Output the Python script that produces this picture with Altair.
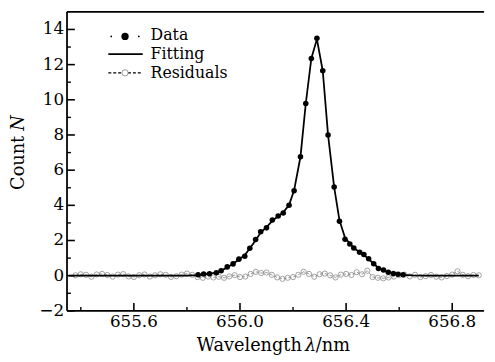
import altair as alt
import pandas as pd

# ---- data ----
data_wl = [655.842, 655.863, 655.885, 655.911, 655.929, 655.952, 655.974, 655.996, 656.018,
           656.037, 656.059, 656.078, 656.100, 656.122, 656.144, 656.163, 656.185, 656.204,
           656.228, 656.248, 656.269, 656.290, 656.312, 656.332, 656.355, 656.375, 656.396,
           656.414, 656.429, 656.451, 656.467, 656.485, 656.504, 656.522, 656.541, 656.559,
           656.578, 656.596, 656.615]
data_count = [0.05, 0.10, 0.11, 0.17, 0.28, 0.50, 0.67, 0.94, 1.11,
              1.56, 2.06, 2.50, 2.72, 3.17, 3.39, 3.56, 4.00, 4.83,
              6.76, 9.79, 12.35, 13.50, 11.65, 8.00, 5.04, 3.09, 2.07,
              1.80, 1.57, 1.33, 1.20, 0.96, 0.68, 0.41, 0.32, 0.20,
              0.12, 0.08, 0.05]

fit_wl = [655.355, 655.80, 655.842, 655.863, 655.885, 655.911, 655.929, 655.952, 655.974,
          655.996, 656.018, 656.037, 656.059, 656.078, 656.100, 656.122, 656.144, 656.163,
          656.185, 656.204, 656.228, 656.248, 656.269, 656.290, 656.312, 656.332, 656.355,
          656.375, 656.396, 656.414, 656.429, 656.451, 656.467, 656.485, 656.504, 656.522,
          656.541, 656.559, 656.578, 656.596, 656.615, 656.65, 656.70, 656.90]
fit_count = [0.0, 0.0, 0.03, 0.07, 0.12, 0.18, 0.29, 0.47, 0.68,
             0.92, 1.17, 1.55, 2.02, 2.45, 2.76, 3.12, 3.38, 3.60,
             4.02, 4.85, 6.76, 9.79, 12.35, 13.45, 11.65, 8.00, 5.04,
             3.15, 2.15, 1.82, 1.57, 1.33, 1.18, 0.94, 0.68, 0.44,
             0.32, 0.21, 0.13, 0.08, 0.05, 0.02, 0.0, 0.0]

res_wl = [655.38, 655.40, 655.42, 655.44, 655.46, 655.48, 655.50, 655.52, 655.54, 655.56,
          655.58, 655.60, 655.62, 655.64, 655.66, 655.68, 655.70, 655.72, 655.74, 655.76,
          655.78, 655.80, 655.82, 655.84, 655.86, 655.88, 655.90, 655.92, 655.94, 655.96,
          655.98, 656.00, 656.02, 656.04, 656.06, 656.08, 656.10, 656.12, 656.14, 656.16,
          656.18, 656.20, 656.22, 656.24, 656.26, 656.28, 656.30, 656.32, 656.34, 656.36,
          656.38, 656.40, 656.42, 656.44, 656.46, 656.48, 656.50, 656.52, 656.54, 656.56,
          656.58, 656.60, 656.62, 656.64, 656.66, 656.68, 656.70, 656.72, 656.74, 656.76,
          656.78, 656.80, 656.82, 656.84, 656.86, 656.88, 656.90]
res_val = [0.02, 0.08, 0.05, -0.06, 0.07, 0.10, 0.04, -0.05, 0.06, 0.09,
           -0.04, -0.08, 0.03, 0.07, -0.05, 0.02, 0.08, 0.05, -0.07, -0.03,
           0.06, 0.12, 0.05, -0.08, -0.12, -0.05, -0.10, -0.06, -0.12, -0.04,
           0.03, -0.08, -0.05, 0.10, 0.22, 0.15, 0.18, 0.05, -0.10, -0.18,
           -0.12, -0.08, 0.05, 0.22, 0.10, -0.06, 0.08, 0.12, 0.02, -0.10,
           0.06, 0.10, 0.04, 0.20, 0.08, 0.28, -0.08, -0.12, -0.15, -0.10,
           -0.05, 0.03, 0.06, -0.04, 0.05, -0.08, -0.03, 0.04, -0.06, -0.10,
           -0.02, 0.06, 0.25, 0.05, -0.03, 0.04, 0.02]

x_major = [655.6, 656.0, 656.4, 656.8]
x_minor = [655.4, 655.8, 656.2, 656.6]
y_major = [-2, 0, 2, 4, 6, 8, 10, 12, 14]
y_minor = [-1, 1, 3, 5, 7, 9, 11, 13]
legend_labels = ["Data", "Fitting", "Residuals"]

W, H = 424, 304
FONT = "DejaVu Serif"
FS = 17
LFS = 16
xs = alt.Scale(domain=[655.348, 656.92], nice=False, zero=False)
ys = alt.Scale(domain=[-2, 15], nice=False, zero=False)

df_data = pd.DataFrame({"wl": data_wl, "n": data_count})
df_fit = pd.DataFrame({"wl": fit_wl, "n": fit_count})
df_res = pd.DataFrame({"wl": res_wl, "n": res_val})
one = pd.DataFrame({"a": [0]})

X = lambda f: alt.X(f, scale=xs, axis=None)
Y = lambda f: alt.Y(f, scale=ys, axis=None)

res_line = alt.Chart(df_res).mark_line(color="#888888", strokeWidth=0.9, strokeDash=[3, 2]).encode(
    x=X("wl:Q"), y=Y("n:Q"))
res_pts = alt.Chart(df_res).mark_point(shape="circle", size=28, filled=False, color="#8a8a8a",
                                       strokeWidth=0.8, opacity=1).encode(x=X("wl:Q"), y=Y("n:Q"))
fit_line = alt.Chart(df_fit).mark_line(color="black", strokeWidth=1.8).encode(
    x=X("wl:Q"), y=Y("n:Q"))
data_pts = alt.Chart(df_data).mark_point(shape="circle", size=32, filled=True, color="black",
                                         opacity=1).encode(x=X("wl:Q"), y=Y("n:Q"))

# frame (left, bottom, top)
left_border = alt.Chart(one).mark_rule(color="black", strokeWidth=1.8).encode(
    x=alt.value(0), y=alt.value(0), y2=alt.value(H))
bottom_border = alt.Chart(one).mark_rule(color="black", strokeWidth=1.8).encode(
    x=alt.value(0), x2=alt.value(W), y=alt.value(H))
top_border = alt.Chart(one).mark_rule(color="black", strokeWidth=1.8).encode(
    x=alt.value(0), x2=alt.value(W), y=alt.value(0))

# inward ticks and tick labels
y_maj_t = alt.Chart(pd.DataFrame({"v": y_major})).mark_rule(color="black", strokeWidth=1.6).encode(
    y=Y("v:Q"), x=alt.value(0), x2=alt.value(8))
y_min_t = alt.Chart(pd.DataFrame({"v": y_minor})).mark_rule(color="black", strokeWidth=1.4).encode(
    y=Y("v:Q"), x=alt.value(0), x2=alt.value(4))
x_maj_t = alt.Chart(pd.DataFrame({"v": x_major})).mark_rule(color="black", strokeWidth=1.6).encode(
    x=X("v:Q"), y=alt.value(H), y2=alt.value(H - 8))
x_min_t = alt.Chart(pd.DataFrame({"v": x_minor})).mark_rule(color="black", strokeWidth=1.4).encode(
    x=X("v:Q"), y=alt.value(H), y2=alt.value(H - 4))
x_lab = alt.Chart(pd.DataFrame({"v": x_major})).mark_text(
    baseline="top", align="center", font=FONT, fontSize=FS, color="black").encode(
    x=X("v:Q"), y=alt.value(H + 3), text=alt.Text("v:Q", format=".1f"))
y_lab = alt.Chart(pd.DataFrame({"v": y_major})).mark_text(
    baseline="middle", align="right", font=FONT, fontSize=FS, color="black").encode(
    y=Y("v:Q"), x=alt.value(-3), text=alt.Text("v:Q", format="d"))

# legend (drawn by hand)
def leg_label(txt, yy):
    return alt.Chart(one).mark_text(align="left", baseline="middle", font=FONT, fontSize=LFS,
                                    color="black").encode(text=alt.value(txt),
                                                          x=alt.value(85), y=alt.value(yy))

leg_t1 = leg_label(legend_labels[0], 24)
leg_t2 = leg_label(legend_labels[1], 43)
leg_t3 = leg_label(legend_labels[2], 62)
leg_dot = alt.Chart(one).mark_point(shape="circle", size=55, filled=True, color="black", opacity=1).encode(
    x=alt.value(59), y=alt.value(25))
leg_sd1 = alt.Chart(one).mark_point(shape="circle", size=3, filled=True, color="black", opacity=1).encode(
    x=alt.value(45), y=alt.value(25))
leg_sd2 = alt.Chart(one).mark_point(shape="circle", size=3, filled=True, color="black", opacity=1).encode(
    x=alt.value(73), y=alt.value(25))
leg_fit = alt.Chart(one).mark_rule(color="black", strokeWidth=1.8).encode(
    x=alt.value(42), x2=alt.value(77), y=alt.value(43))
leg_res = alt.Chart(one).mark_rule(color="black", strokeWidth=1.4, strokeDash=[3, 2]).encode(
    x=alt.value(42), x2=alt.value(77), y=alt.value(62))
leg_rc = alt.Chart(one).mark_point(shape="circle", size=40, filled=True, fill="white",
                                   stroke="#8a8a8a", strokeWidth=0.9, opacity=1).encode(
    x=alt.value(59), y=alt.value(62))

# axis titles with italic symbols
TFS = 18
xt1 = alt.Chart(one).mark_text(align="left", baseline="alphabetic", font=FONT, fontSize=TFS,
                               color="black").encode(text=alt.value("Wavelength"),
                                                     x=alt.value(132), y=alt.value(345))
xt2 = alt.Chart(one).mark_text(align="left", baseline="alphabetic", font=FONT, fontSize=TFS,
                               fontStyle="italic", color="black").encode(
    text=alt.value("λ"), x=alt.value(242), y=alt.value(345))
xt3 = alt.Chart(one).mark_text(align="left", baseline="alphabetic", font=FONT, fontSize=TFS,
                               color="black").encode(text=alt.value("/nm"),
                                                     x=alt.value(253), y=alt.value(345))
yt1 = alt.Chart(one).mark_text(align="left", baseline="middle", font=FONT, fontSize=TFS, angle=270,
                               color="black").encode(text=alt.value("Count"),
                                                     x=alt.value(-49), y=alt.value(181))
yt2 = alt.Chart(one).mark_text(align="left", baseline="middle", font=FONT, fontSize=TFS, angle=270,
                               fontStyle="italic", color="black").encode(
    text=alt.value("N"), x=alt.value(-49), y=alt.value(121))

chart = alt.layer(
    res_line, res_pts, fit_line, data_pts,
    left_border, bottom_border, top_border,
    y_maj_t, y_min_t, x_maj_t, x_min_t, x_lab, y_lab,
    leg_fit, leg_res, leg_rc, leg_sd1, leg_sd2, leg_dot, leg_t1, leg_t2, leg_t3,
    xt1, xt2, xt3, yt1, yt2,
).properties(
    width=W, height=H,
    autosize=alt.AutoSizeParams(type="none"),
    padding={"left": 60, "top": 1, "right": 3, "bottom": 45},
).configure_view(stroke=None)

chart.save("out.html", embed_options={"renderer": "svg", "actions": False})
